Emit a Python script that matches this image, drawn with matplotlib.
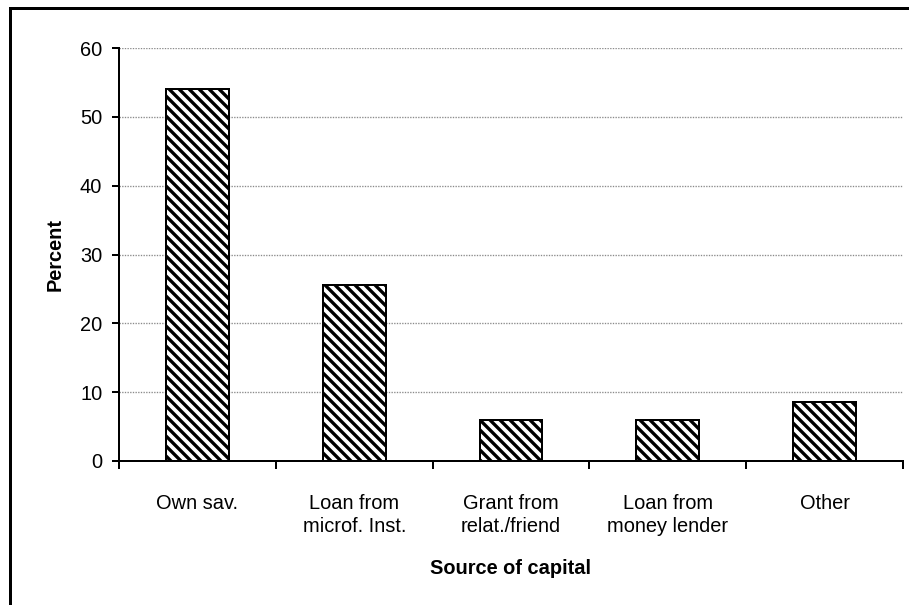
import matplotlib.pyplot as plt
import matplotlib.patches as mpatches
import numpy as np

sources = ["Own sav.", "Loan from\nmicrof. Inst.", "Grant from\nrelat./friend",
           "Loan from\nmoney lender", "Other"]
percent = [54.1, 25.5, 5.9, 5.9, 8.6]
yticks = [0, 10, 20, 30, 40, 50, 60]

plt.rcParams["font.family"] = ["Liberation Sans", "DejaVu Sans"]
plt.rcParams["hatch.linewidth"] = 2.0
plt.rcParams["hatch.color"] = "#262626"

dpi = 120
fig = plt.figure(figsize=(909 / dpi, 605 / dpi), dpi=dpi)
ax = fig.add_axes([119 / 909, 1 - 461 / 605, 784 / 909, 413 / 605])

x = np.arange(len(sources))
ax.bar(x, percent, width=0.4, color="white", edgecolor="black",
       linewidth=1.2, hatch="\\\\\\\\", zorder=3)

ax.set_xlim(-0.5, len(sources) - 0.5)
ax.set_ylim(0, 60)
ax.set_yticks(yticks)
ax.yaxis.grid(True, color="#8a8a8a", linestyle=(0, (1, 1)), linewidth=0.8, zorder=0)

# category boundaries carry the ticks, labels sit at the centres
ax.set_xticks(np.arange(-0.5, len(sources)), labels=[])
ax.set_xticks(x, labels=sources, minor=True)
ax.tick_params(axis="x", which="major", length=5, width=1.2, direction="out")
ax.tick_params(axis="x", which="minor", length=0, pad=20, labelsize=12)
ax.tick_params(axis="y", length=4, width=1.2, direction="out", pad=6, labelsize=12)
for lbl in ax.get_xticklabels(minor=True):
    lbl.set_linespacing(1.25)

for side in ["top", "right"]:
    ax.spines[side].set_visible(False)
for side in ["left", "bottom"]:
    ax.spines[side].set_linewidth(1.2)

fig.text(55 / 909, 1 - 255 / 605, "Percent", rotation=90, ha="center", va="center",
         fontsize=12, fontweight="bold")
fig.text(0.5 * (119 + 903) / 909, 1 - 568 / 605, "Source of capital",
         ha="center", va="center", fontsize=12, fontweight="bold")

# outer chart frame
frame = mpatches.Rectangle((10 / 909, -0.1), 1.2, 1 - 8 / 605 + 0.1,
                           transform=fig.transFigure, fill=False,
                           edgecolor="black", linewidth=1.8)
fig.patches.append(frame)

fig.savefig("out.png", dpi=dpi)
